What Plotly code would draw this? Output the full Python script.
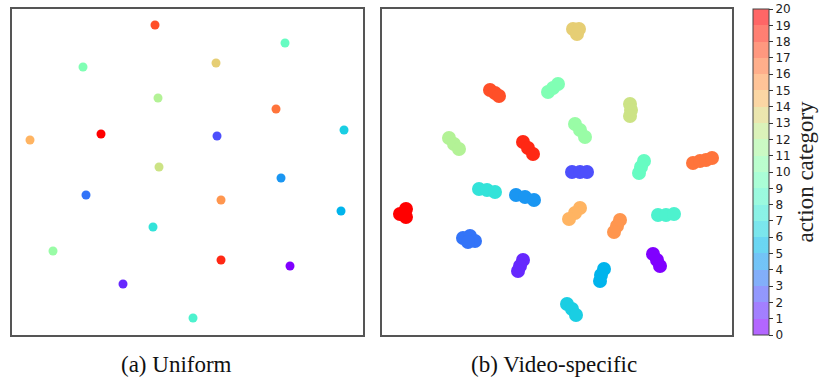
import plotly.graph_objects as go
from plotly.colors import sample_colorscale

# category labels 0..20 (colour scale)
cat_ticks = list(range(21))

# (a) Uniform: one point per action category
xa = [143, 273, 71, 204, 146, 264, 89, 18, 205, 332, 147, 269, 74, 209, 329, 141, 41, 209, 278, 111, 181]
ya = [310, 292, 268, 272, 237, 226, 201, 195, 199, 205, 168, 157, 140, 135, 124, 108, 84, 75, 69, 51, 17]
ca = [18, 9, 10, 14, 12, 17, 20, 15, 2, 6, 13, 4, 3, 16, 5, 7, 11, 19, 0, 1, 8]

# (b) Video-specific: a few points per cluster
xb = [191, 197, 195,  108, 113, 117,  166, 171, 176,  248, 249, 248,
      193, 198, 203,  67, 72, 77,  141, 146, 151,  190, 198, 205,
      262, 259, 257,  311, 318, 324, 330,  97, 105, 113,  134, 143, 152,
      18, 24, 24,  81, 88, 93, 86,  141, 138, 136,  198, 193, 187,
      238, 235, 232,  276, 284, 292,  271, 275, 278,  222, 219, 218,
      185, 190, 194]
yb = [306, 306, 301,  245, 242, 239,  243, 247, 251,  231, 225, 219,
      211, 205, 198,  197, 191, 186,  193, 187, 181,  163, 163, 163,
      174, 168, 162,  172, 174, 175, 177,  146, 145, 143,  140, 138, 135,
      121, 126, 118,  97, 99, 94, 93,  75, 69, 64,  127, 122, 116,
      115, 109, 103,  120, 120, 121,  81, 75, 69,  66, 60, 54,
      31, 26, 20]
cb = [14, 14, 14,  18, 18, 18,  10, 10, 10,  13, 13, 13,
      11, 11, 11,  12, 12, 12,  19, 19, 19,  2, 2, 2,
      9, 9, 9,  17, 17, 17, 17,  7, 7, 7,  4, 4, 4,
      20, 20, 20,  3, 3, 3, 3,  1, 1, 1,  15, 15, 15,
      16, 16, 16,  8, 8, 8,  0, 0, 0,  5, 5, 5,
      6, 6, 6]

captions = ["(a) Uniform", "(b) Video-specific"]

rainbow = ["#8000ff", "#6628fe", "#4d4ffc", "#3374f8", "#1a96f2", "#00b4ec",
           "#1acee3", "#33e3d9", "#4df2ce", "#66fcc2", "#80ffb4", "#99fca6",
           "#b3f296", "#cce385", "#e6ce74", "#ffb462", "#ff964f", "#ff743b",
           "#ff4f28", "#ff2814", "#ff0000"]
rainbow_scale = [[i / 20, c] for i, c in enumerate(rainbow)]

# discrete, semi-transparent scale for the colour bar
band_cols = sample_colorscale(rainbow_scale, [i / 19 for i in range(20)])
disc_scale = []
for i, c in enumerate(band_cols):
    rgba = c.replace("rgb(", "rgba(").replace(")", ",0.6)")
    disc_scale.append([i / 20, rgba])
    disc_scale.append([(i + 1) / 20, rgba])

fig = go.Figure()
fig.add_trace(go.Scatter(
    x=xa, y=ya, mode="markers", xaxis="x", yaxis="y", showlegend=False,
    marker=dict(size=9, color=ca, cmin=0, cmax=20, colorscale=rainbow_scale,
                line=dict(width=0)),
))
fig.add_trace(go.Scatter(
    x=xb, y=yb, mode="markers", xaxis="x2", yaxis="y2", showlegend=False,
    marker=dict(size=14, color=cb, cmin=0, cmax=20, colorscale=rainbow_scale,
                line=dict(width=0)),
))
# colour bar only
fig.add_trace(go.Scatter(
    x=[None], y=[None], mode="markers", xaxis="x2", yaxis="y2", showlegend=False,
    marker=dict(color=[0], cmin=0, cmax=20, colorscale=disc_scale, showscale=True,
                colorbar=dict(
                    x=0.9776, xanchor="left", xpad=0, y=0.5, yanchor="middle",
                    ypad=0, len=1, lenmode="fraction", thickness=16,
                    outlinecolor="#444", outlinewidth=1,
                    tickvals=cat_ticks, ticks="outside", ticklen=4,
                    tickcolor="#333", ticklabeloverflow="allow",
                    tickfont=dict(family="DejaVu Sans", size=12, color="#222"),
                    title=dict(text="action category", side="right",
                               font=dict(family="Liberation Serif", size=23,
                                         color="#222")),
                )),
))

ax = dict(showline=True, linecolor="#555", linewidth=1.5, mirror=True,
          showticklabels=False, ticks="", showgrid=False, zeroline=False)
fig.update_layout(
    width=830, height=380,
    margin=dict(l=12, r=60, t=9, b=45, autoexpand=False),
    plot_bgcolor="white", paper_bgcolor="white",
    xaxis=dict(ax, domain=[0, 0.4631], range=[0, 351]),
    yaxis=dict(ax, range=[0, 326]),
    xaxis2=dict(ax, domain=[0.4881, 0.9499], range=[0, 350]),
    yaxis2=dict(ax, anchor="x2", range=[0, 326]),
    annotations=[
        dict(text=captions[0], x=(176 - 12) / 758, y=-0.089, xref="paper", yref="paper",
             showarrow=False, xanchor="center", yanchor="middle",
             font=dict(family="Liberation Serif", size=23, color="#111")),
        dict(text=captions[1], x=(554 - 12) / 758, y=-0.089, xref="paper", yref="paper",
             showarrow=False, xanchor="center", yanchor="middle",
             font=dict(family="Liberation Serif", size=23, color="#111")),
    ],
)

# drop the page's default body margin so the figure sits at the window corner
fig.write_html("out.html", config={"displayModeBar": False},
               post_script="document.body.style.margin = '0px';")
